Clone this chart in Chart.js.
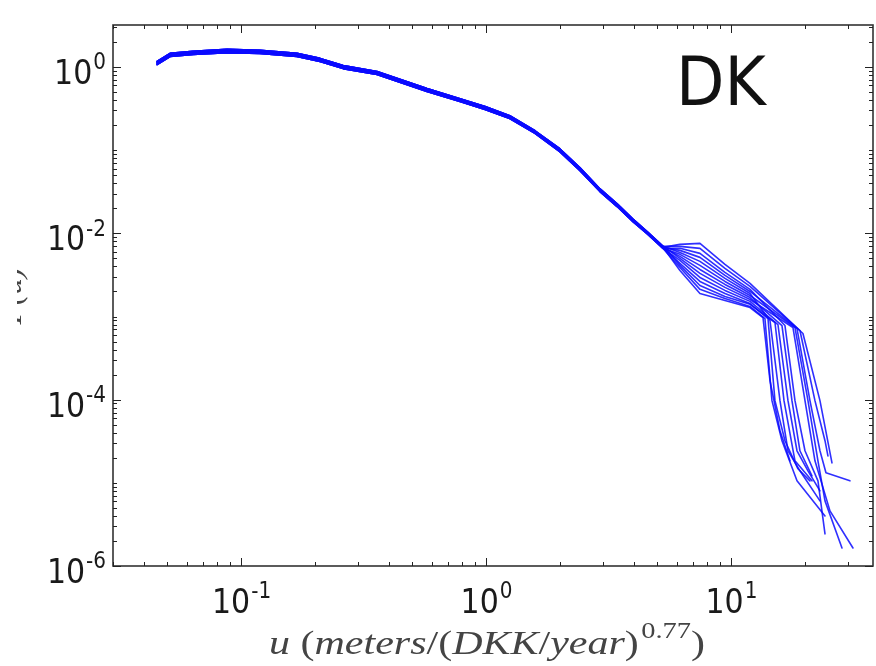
<!DOCTYPE html>
<html><head><meta charset="utf-8">
<script src="https://cdn.jsdelivr.net/npm/chart.js@4/dist/chart.umd.min.js"></script>
<style>html,body{margin:0;padding:0;background:#fff;overflow:hidden}#wrap{width:876px;height:666px}</style>
</head><body><div id="wrap"><canvas id="c" width="876" height="666"></canvas></div>
<script>
// ---------- data ----------
const xRange = [0.03, 38];
const yRange = [1e-6, 3.2];
const xMajorExps = [-1, 0, 1];
const yMajorExps = [0, -2, -4, -6];
const panelLabel = 'DK';
const xTitleParts = [['u','i'],[' ','n'],['(','n'],['meters','i'],['/','n'],['(','n'],['DKK','i'],['/','n'],['year','i'],[')','n'],['0.77','sup'],[')','n']];
const yTitle = 'P(u)';

// common head of all curves (x values and three band edges)
const headX     = [0.0454, 0.0513, 0.0637, 0.0877, 0.1195, 0.169, 0.210, 0.261, 0.359, 0.574, 0.783, 0.991, 1.25, 1.585, 2.0, 2.42, 2.92, 3.43, 3.98, 4.58, 5.28];
const headMid   = [1.117, 1.395, 1.475, 1.558, 1.516, 1.395, 1.214, 1.0, 0.847, 0.528, 0.400, 0.321, 0.250, 0.165, 0.100, 0.0590, 0.0330, 0.0218, 0.0143, 0.0100, 0.00678];
const headUpper = [1.167, 1.458, 1.541, 1.628, 1.584, 1.458, 1.269, 1.045, 0.885, 0.550, 0.416, 0.334, 0.260, 0.171, 0.104, 0.0612, 0.0342, 0.0226, 0.0148, 0.0103, 0.0070];
const headLower = [1.069, 1.335, 1.412, 1.491, 1.451, 1.335, 1.162, 0.957, 0.811, 0.507, 0.384, 0.308, 0.240, 0.159, 0.096, 0.0568, 0.0318, 0.0210, 0.0138, 0.0097, 0.0066];

// bundle region (x ~ 6..12)
const bundleX = [6.19, 7.47, 9.45, 11.96];
const bundleY = [
  [0.00737, 0.00758, 0.00423, 0.00250],
  [0.00697, 0.00660, 0.00379, 0.00230],
  [0.00660, 0.00574, 0.00339, 0.00212],
  [0.00624, 0.00514, 0.00312, 0.00200],
  [0.00590, 0.00460, 0.00287, 0.00189],
  [0.00559, 0.00412, 0.00264, 0.00179],
  [0.00528, 0.00368, 0.00243, 0.00169],
  [0.00500, 0.00330, 0.00224, 0.00160],
  [0.00473, 0.00295, 0.00206, 0.00152],
  [0.00435, 0.00264, 0.00189, 0.00143],
  [0.00412, 0.00236, 0.00174, 0.00140],
  [0.00389, 0.00212, 0.00165, 0.00132],
  [0.00358, 0.00189, 0.00156, 0.00128]
];

// individual tails
const tailX = [
  [19.67, 23.08, 25.84],
  [19.12, 22.02, 24.20, 24.88],
  [16.61, 18.25, 20.05, 22.65, 24.20],
  [18.60, 21.01, 23.08, 24.42, 30.60],
  [14.43, 15.85, 17.09, 19.12, 23.08],
  [18.25, 20.62, 22.65, 24.20, 28.39],
  [16.15, 17.74, 19.12, 21.41],
  [17.91, 20.05, 22.02, 25.36, 31.48],
  [15.55, 17.09, 18.60, 20.62, 23.08],
  [14.16, 15.12, 16.61, 18.77, 21.01],
  [15.12, 16.46, 18.25, 21.41],
  [13.76, 14.70, 16.15, 18.60, 24.20],
  [13.51, 14.43, 15.85, 17.41]
];
const tailY = [
  [6.24e-4, 9.73e-5, 1.74e-5],
  [6.78e-4, 9.73e-5, 3.21e-5, 2.11e-5],
  [7.79e-4, 9.73e-5, 2.43e-5, 1.057e-5, 2.43e-6],
  [7.17e-4, 9.73e-5, 2.43e-5, 1.32e-5, 1.057e-5],
  [8.95e-4, 9.73e-5, 2.43e-5, 1.395e-5, 6.07e-6],
  [7.37e-4, 9.73e-5, 1.84e-5, 6.07e-6, 1.648e-6],
  [7.79e-4, 9.73e-5, 2.43e-5, 1.214e-5],
  [7.37e-4, 9.73e-5, 1.84e-5, 4.60e-6, 1.648e-6],
  [8.01e-4, 9.73e-5, 2.43e-5, 1.395e-5, 8.01e-6],
  [9.46e-4, 9.73e-5, 3.21e-5, 1.475e-5, 1.057e-5],
  [8.47e-4, 9.73e-5, 1.84e-5, 1.057e-5],
  [9.46e-4, 9.73e-5, 3.21e-5, 1.057e-5, 4.00e-6],
  [9.73e-4, 1.694e-4, 4.23e-5, 1.84e-5]
];

// ---------- build datasets ----------
const headVariants = [headMid, headUpper, headLower];
const datasets = bundleY.map((bY, i) => {
  const hv = headVariants[i % 3];
  const pts = [];
  headX.forEach((x, k) => pts.push({x, y: hv[k]}));
  bundleX.forEach((x, k) => pts.push({x, y: bY[k]}));
  tailX[i].forEach((x, k) => pts.push({x, y: tailY[i][k]}));
  return {
    data: pts, showLine: true, pointRadius: 0, borderWidth: 1.6,
    borderColor: 'rgba(10,10,255,0.85)', fill: false, tension: 0,
    borderJoinStyle: 'round', borderCapStyle: 'round'
  };
});

// ---------- drawing helpers ----------
const TXT = '#1a1a1a';
function drawPow(ctx, exp, x, baseline, align) {
  const s = String(exp);
  ctx.font = '30px "DejaVu Sans"';
  const wb = ctx.measureText('10').width;
  ctx.font = '20px "DejaVu Sans"';
  const ws = ctx.measureText(s).width;
  let x0 = align === 'center' ? x - (wb + ws) / 2 : x - wb - ws;
  ctx.save();
  ctx.fillStyle = TXT; ctx.textAlign = 'left'; ctx.textBaseline = 'alphabetic';
  ctx.translate(x0, baseline); ctx.scale(1, 1.13);
  ctx.font = '30px "DejaVu Sans"'; ctx.fillText('10', 0, 0);
  ctx.font = '20px "DejaVu Sans"'; ctx.fillText(s, wb + 1, -13);
  ctx.restore();
}

const mplPlugin = {
  id: 'mpl',
  afterDraw(chart) {
    const {ctx, chartArea: a, scales: {x, y}} = chart;
    ctx.save();
    // frame
    ctx.strokeStyle = '#333'; ctx.lineWidth = 1.6;
    ctx.strokeRect(a.left, a.top, a.right - a.left, a.bottom - a.top);
    // ticks
    ctx.strokeStyle = '#222'; ctx.lineWidth = 1;
    const seg = (x1, y1, x2, y2) => { ctx.beginPath(); ctx.moveTo(x1, y1); ctx.lineTo(x2, y2); ctx.stroke(); };
    for (let e = -2; e <= 1; e++) for (let m = 1; m <= 9; m++) {
      const v = m * Math.pow(10, e);
      if (v < x.min || v > x.max) continue;
      const px = Math.round(x.getPixelForValue(v)) + 0.5;
      const len = (m === 1) ? 8 : 4;
      seg(px, a.bottom, px, a.bottom - len); seg(px, a.top, px, a.top + len);
    }
    for (let e = -6; e <= 0; e++) for (let m = 1; m <= 9; m++) {
      const v = m * Math.pow(10, e);
      if (v < y.min * 0.999 || v > y.max) continue;
      const py = Math.round(y.getPixelForValue(v)) + 0.5;
      const len = (m === 1 && yMajorExps.includes(e)) ? 8 : 4;
      seg(a.left, py, a.left + len, py); seg(a.right, py, a.right - len, py);
    }
    // tick labels
    xMajorExps.forEach(e => drawPow(ctx, e, x.getPixelForValue(Math.pow(10, e)), a.bottom + 47, 'center'));
    yMajorExps.forEach(e => drawPow(ctx, e, a.left - 8, y.getPixelForValue(Math.pow(10, e)) + 17, 'right'));
    // panel label
    ctx.save();
    ctx.fillStyle = '#111'; ctx.font = '63px "DejaVu Sans"'; ctx.textAlign = 'left';
    ctx.translate(676, 105); ctx.scale(1, 1.08); ctx.fillText(panelLabel, 0, 0);
    ctx.restore();
    // x title (mathtext-like)
    const fam = '"Liberation Serif"';
    const fontFor = t => t === 'i' ? 'italic 34px ' + fam : (t === 'sup' ? '23px ' + fam : '34px ' + fam);
    let tot = 0;
    xTitleParts.forEach(([s, t]) => { ctx.font = fontFor(t); tot += ctx.measureText(s).width + (t === 'sup' ? 2 : 0); });
    const targetW = 436, sx = targetW / tot;
    ctx.save();
    ctx.fillStyle = '#444'; ctx.textAlign = 'left';
    ctx.translate(487 - targetW / 2, 654); ctx.scale(sx, 1);
    let cx = 0;
    xTitleParts.forEach(([s, t]) => {
      ctx.font = fontFor(t);
      if (t === 'sup') { ctx.fillText(s, cx + 2, -16); cx += ctx.measureText(s).width + 2; }
      else { ctx.fillText(s, cx, 0); cx += ctx.measureText(s).width; }
    });
    ctx.restore();
    // y title (cropped at the left edge as in the figure)
    ctx.save();
    ctx.beginPath(); ctx.rect(17, 0, 200, 666); ctx.clip();
    ctx.fillStyle = '#444'; ctx.font = 'italic 32px ' + fam; ctx.textAlign = 'center';
    ctx.translate(21, 296); ctx.rotate(-Math.PI / 2); ctx.fillText(yTitle, 0, 0);
    ctx.restore();
    ctx.restore();
  }
};

new Chart(document.getElementById('c'), {
  type: 'scatter',
  data: { datasets },
  options: {
    responsive: false, animation: false, devicePixelRatio: 1,
    layout: { padding: { top: 25, right: 3, left: 0, bottom: 0 } },
    plugins: { legend: { display: false }, tooltip: { enabled: false } },
    scales: {
      x: { type: 'logarithmic', min: xRange[0], max: xRange[1],
           grid: { display: false }, border: { display: false }, ticks: { display: false },
           afterFit: s => { s.height = 100; } },
      y: { type: 'logarithmic', min: yRange[0], max: yRange[1],
           grid: { display: false }, border: { display: false }, ticks: { display: false },
           afterFit: s => { s.width = 113; } }
    }
  },
  plugins: [mplPlugin]
});
</script>
</body></html>
